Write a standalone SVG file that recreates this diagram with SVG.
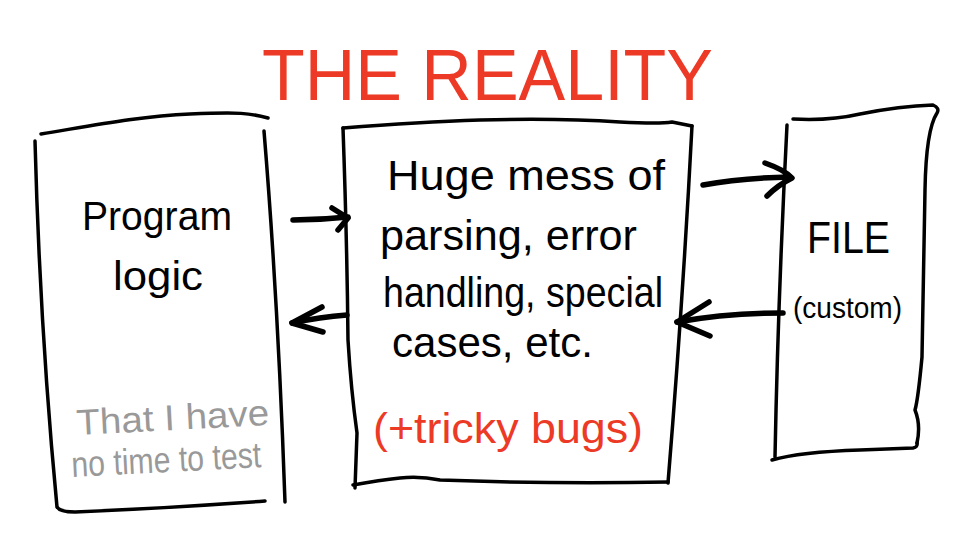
<svg xmlns="http://www.w3.org/2000/svg" width="974" height="554" viewBox="0 0 974 554">
<style>
.box{fill:none;stroke:#000;stroke-width:3.5;stroke-linecap:round;stroke-linejoin:round}
.arr{fill:none;stroke:#000;stroke-width:5.5;stroke-linecap:round;stroke-linejoin:round}
.t{font-family:"Liberation Sans",Arial,sans-serif;fill:#000}
.red{fill:#EC3A26}
.gray{fill:#999999}
</style>
<rect width="974" height="554" fill="#fff"/>
<text class="t red" x="262" y="100" font-size="72" textLength="451" lengthAdjust="spacingAndGlyphs">THE REALITY</text>
<g id="program-logic">
<path class="box" d="M41,134 C90,126 140,116 190,114 S250,113 268,118"/>
<path class="box" d="M35,141 Q40,330 57,507 Q60,512 75,512 Q170,508 265,501"/>
<path class="box" d="M264,131 Q278,300 285,502"/>
<text class="t" x="82" y="230" font-size="40" textLength="150" lengthAdjust="spacingAndGlyphs">Program</text>
<text class="t" x="113" y="290" font-size="40" textLength="90" lengthAdjust="spacingAndGlyphs">logic</text>
<text class="t gray" x="77" y="435" font-size="36" textLength="193" lengthAdjust="spacingAndGlyphs" transform="rotate(-3 77 435)">That I have</text>
<text class="t gray" x="72" y="477" font-size="36" textLength="190" lengthAdjust="spacingAndGlyphs" transform="rotate(-3 72 477)">no time to test</text>
</g>
<g id="parsing-mess">
<path class="box" d="M343,128 Q420,122 480,120 Q560,118 620,122 Q660,124 672,122 L692,126"/>
<path class="box" d="M343,128 Q347,240 348,340 Q351,390 357,433 L355,488"/>
<path class="box" d="M353,485 Q380,480 400,478 Q420,476 440,480 Q550,484 668,482"/>
<path class="box" d="M692,126 Q683,300 668,483"/>
<text class="t" x="387" y="190" font-size="42" textLength="278" lengthAdjust="spacingAndGlyphs">Huge mess of</text>
<text class="t" x="380" y="250" font-size="42" textLength="257" lengthAdjust="spacingAndGlyphs">parsing, error</text>
<text class="t" x="383" y="307" font-size="42" textLength="280" lengthAdjust="spacingAndGlyphs">handling, special</text>
<text class="t" x="392" y="357" font-size="42" textLength="201" lengthAdjust="spacingAndGlyphs">cases, etc.</text>
<text class="t red" x="373" y="443" font-size="42" textLength="270" lengthAdjust="spacingAndGlyphs">(+tricky bugs)</text>
</g>
<g id="file">
<path class="box" d="M793,119 Q830,121 860,114 Q900,106 933,105 Q940,108 937,113 Q926,130 925,190 L922,357 Q918,400 915,410 Q921,425 917,443"/>
<path class="box" d="M772,460 Q800,452 860,450 L913,448 Q918,447 917,443"/>
<path class="box" d="M787,125 Q778,300 775,457"/>
<text class="t" x="807" y="253" font-size="44" textLength="83" lengthAdjust="spacingAndGlyphs">FILE</text>
<text class="t" x="793" y="318" font-size="30" textLength="109" lengthAdjust="spacingAndGlyphs">(custom)</text>
</g>
<g id="connectors">
<path class="arr" d="M293,220 Q320,220 348,217"/>
<path class="arr" d="M332,208 L348,218 L338,230"/>
<path class="arr" d="M347,315 Q320,317 292,323"/>
<path class="arr" d="M322,307 L292,323 L323,332"/>
<path class="arr" d="M703,185 Q740,178 790,177"/>
<path class="arr" d="M765,163 Q785,170 792,178 Q778,185 767,196"/>
<path class="arr" d="M783,313 Q727,313 677,322"/>
<path class="arr" d="M709,302 L677,322 L710,336"/>
</g>
</svg>
